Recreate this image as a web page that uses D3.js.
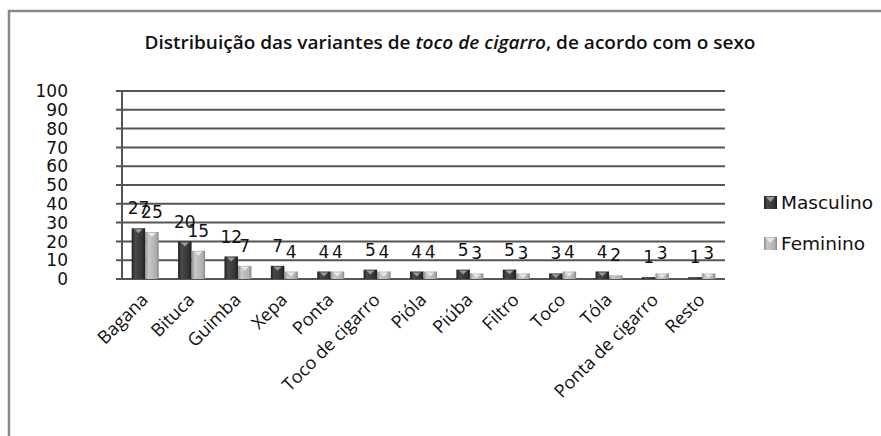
<!DOCTYPE html>
<html lang="pt">
<head>
    <meta charset="UTF-8">
    <title>Distribuição das variantes de toco de cigarro</title>
    <script src="https://d3js.org/d3.v7.min.js"></script>
    <style>
        body { margin: 0; background: #fff; }
        .grid line { stroke: #555; stroke-width: 2px; }
        .ylab { font: 17px "DejaVu Sans", sans-serif; fill: #111; }
        .xlab { font: 18px "Open Sans", sans-serif; fill: #111; }
        .vlab { font: 17px "DejaVu Sans", sans-serif; fill: #111; }
        .legend text { font: 18.5px "DejaVu Sans", sans-serif; fill: #111; }
    </style>
</head>
<body>
    <div id="chart"></div>
    <script>
        // valores
        const categories = ["Bagana", "Bituca", "Guimba", "Xepa", "Ponta", "Toco de cigarro",
            "Pióla", "Piúba", "Filtro", "Toco", "Tóla", "Ponta de cigarro", "Resto"];
        const masculino = [27, 20, 12, 7, 4, 5, 4, 5, 5, 3, 4, 1, 1];
        const feminino = [25, 15, 7, 4, 4, 4, 4, 3, 3, 4, 2, 3, 3];
        const seriesNames = ["Masculino", "Feminino"];
        const yTicks = [0, 10, 20, 30, 40, 50, 60, 70, 80, 90, 100];

        const width = 881, height = 436;
        const plot = { left: 122, right: 725, top: 91, bottom: 279 };

        const svg = d3.select("#chart").append("svg")
            .attr("width", width)
            .attr("height", height);

        const defs = svg.append("defs");
        const gradDark = defs.append("linearGradient").attr("id", "gDark");
        gradDark.append("stop").attr("offset", "0%").attr("stop-color", "#1e1e1e");
        gradDark.append("stop").attr("offset", "25%").attr("stop-color", "#4a4a4a");
        gradDark.append("stop").attr("offset", "80%").attr("stop-color", "#333");
        gradDark.append("stop").attr("offset", "100%").attr("stop-color", "#1a1a1a");
        const gradLight = defs.append("linearGradient").attr("id", "gLight");
        gradLight.append("stop").attr("offset", "0%").attr("stop-color", "#8e8e8e");
        gradLight.append("stop").attr("offset", "25%").attr("stop-color", "#c8c8c8");
        gradLight.append("stop").attr("offset", "80%").attr("stop-color", "#b0b0b0");
        gradLight.append("stop").attr("offset", "100%").attr("stop-color", "#888");

        // moldura (sem borda direita nem inferior)
        svg.append("path")
            .attr("d", `M9,${height} V11 H${width}`)
            .attr("fill", "none")
            .attr("stroke", "#888")
            .attr("stroke-width", 2.5);

        // título
        const title = svg.append("text")
            .attr("x", 450).attr("y", 49)
            .attr("text-anchor", "middle")
            .attr("textLength", 611)
            .attr("lengthAdjust", "spacingAndGlyphs")
            .style("font", "600 18px 'Open Sans', sans-serif")
            .style("fill", "#111");
        title.append("tspan").text("Distribuição das variantes de ");
        title.append("tspan").style("font-style", "italic").text("toco de cigarro");
        title.append("tspan").text(", de acordo com o sexo");

        const y = d3.scaleLinear().domain([0, 100]).range([plot.bottom, plot.top]);
        const x0 = d3.scaleBand().domain(categories)
            .range([plot.left, plot.right])
            .paddingInner(0.418).paddingOuter(0.209);
        const x1 = d3.scaleBand().domain(seriesNames).range([0, x0.bandwidth()]);

        // linhas de grade
        svg.append("g").attr("class", "grid")
            .selectAll("line").data(yTicks).join("line")
            .attr("x1", plot.left - 6).attr("x2", plot.right)
            .attr("y1", d => y(d)).attr("y2", d => y(d));

        svg.append("line")
            .attr("x1", plot.left).attr("x2", plot.left)
            .attr("y1", y(100)).attr("y2", y(0))
            .attr("stroke", "#555").attr("stroke-width", 2);

        svg.append("g").selectAll("text").data(yTicks).join("text")
            .attr("class", "ylab")
            .attr("x", 68).attr("y", d => y(d))
            .attr("dy", "0.36em")
            .attr("text-anchor", "end")
            .text(d => d);

        // barras
        const rows = categories.map((c, i) => ({ cat: c, values: [
            { key: "Masculino", v: masculino[i] },
            { key: "Feminino", v: feminino[i] }
        ]}));

        const groups = svg.append("g").selectAll("g").data(rows).join("g")
            .attr("transform", d => `translate(${x0(d.cat)},0)`);

        groups.selectAll("rect").data(d => d.values).join("rect")
            .attr("x", d => x1(d.key))
            .attr("y", d => y(d.v))
            .attr("width", x1.bandwidth())
            .attr("height", d => y(0) - y(d.v))
            .attr("fill", d => d.key === "Masculino" ? "url(#gDark)" : "url(#gLight)");

        // pequeno triângulo no topo (efeito de chanfro)
        groups.selectAll("path.bevel").data(d => d.values.filter(v => y(0) - y(v.v) > 4)).join("path")
            .attr("class", "bevel")
            .attr("d", d => {
                const cx = x1(d.key) + x1.bandwidth() / 2, t = y(d.v) + 1;
                return `M${cx - 4},${t} L${cx + 4},${t} L${cx},${t + 4} Z`;
            })
            .attr("fill", d => d.key === "Masculino" ? "#9a9a9a" : "#e8e8e8");

        groups.selectAll("text").data(d => d.values).join("text")
            .attr("class", "vlab")
            .attr("x", d => x1(d.key) + x1.bandwidth() / 2)
            .attr("y", d => y(d.v) - 20)
            .attr("dy", "0.36em")
            .attr("text-anchor", "middle")
            .text(d => d.v);

        // rótulos do eixo x
        svg.append("g").selectAll("text").data(categories).join("text")
            .attr("class", "xlab")
            .attr("text-anchor", "end")
            .attr("transform", d => `translate(${x0(d) + x0.bandwidth() / 2 + 4},${plot.bottom + 22}) rotate(-45)`)
            .text(d => d);

        // legenda
        const legend = svg.append("g").attr("class", "legend")
            .selectAll("g").data(seriesNames).join("g")
            .attr("transform", (d, i) => `translate(764,${196 + i * 41})`);
        legend.append("rect")
            .attr("width", 13).attr("height", 13)
            .attr("fill", d => d === "Masculino" ? "url(#gDark)" : "url(#gLight)");
        legend.append("path")
            .attr("d", "M2,1 L11,1 L6.5,6 Z")
            .attr("fill", d => d === "Masculino" ? "#9a9a9a" : "#e8e8e8");
        legend.append("text")
            .attr("x", 17).attr("y", 6.5).attr("dy", "0.36em")
            .text(d => d);
    </script>
</body>
</html>
